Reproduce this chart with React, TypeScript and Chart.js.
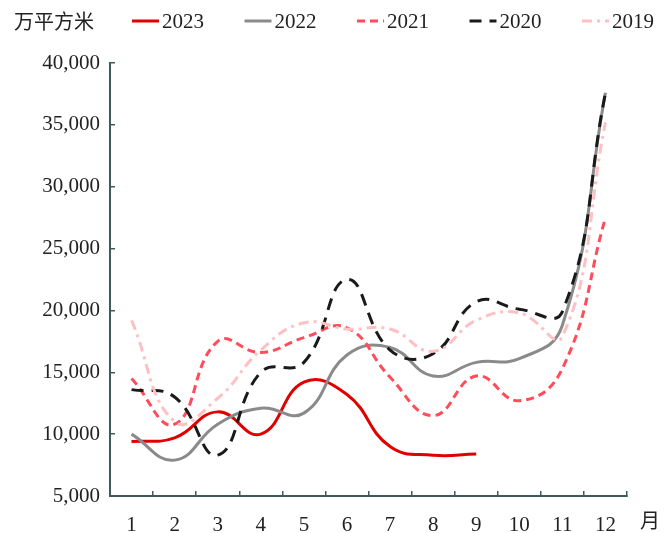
import React, { useEffect, useRef } from "react";
import { Chart, registerables } from "chart.js";

Chart.register(...registerables);

// Month categories and tick values
const months = ["1", "2", "3", "4", "5", "6", "7", "8", "9", "10", "11", "12"];
const yTicks = [5000, 10000, 15000, 20000, 25000, 30000, 35000, 40000];

// Monthly values (万平方米)
const s2023 = [9400, 9700, 11800, 10000, 14200, 13200, 9000, 8300, 8400];
const s2022 = [10000, 7900, 10800, 12100, 11700, 16400, 17000, 14700, 15800, 16100, 18800, 37600];
const s2021 = [14500, 10800, 17500, 16600, 17800, 18600, 14600, 11500, 14700, 12700, 15300, 27500];
const s2020 = [13600, 13000, 8300, 15000, 15800, 22500, 16800, 16500, 20700, 20100, 19900, 37600];
const s2019 = [19200, 11000, 12900, 16800, 19000, 18500, 18500, 16700, 19200, 19800, 17900, 35200];

const unitLabel = "万平方米";
const monthLabel = "月";

const AXIS = "#3f5a5a";
const FONT = "'Liberation Serif', 'DejaVu Serif', serif";
const CJK = "'Noto Sans CJK SC', sans-serif";

// Top legend: unit caption followed by a line sample and year for each series
const topLegend = {
  id: "topLegend",
  afterDraw(chart: any) {
    const ctx = chart.ctx;
    const y = 21;
    ctx.save();
    ctx.fillStyle = "#222";
    ctx.textBaseline = "middle";
    ctx.font = `20px ${CJK}`;
    ctx.fillText(unitLabel, 14, y);
    ctx.font = `21px ${FONT}`;
    const start = 132;
    const step = 112.5;
    const sample = 27;
    chart.data.datasets.forEach((ds: any, i: number) => {
      const x0 = start + i * step;
      ctx.beginPath();
      ctx.setLineDash(ds.borderDash || []);
      ctx.strokeStyle = ds.borderColor;
      ctx.lineWidth = ds.borderWidth;
      ctx.moveTo(x0, y);
      ctx.lineTo(x0 + sample, y);
      ctx.stroke();
      ctx.setLineDash([]);
      ctx.fillStyle = "#222";
      ctx.fillText(ds.label, x0 + sample + 3, y + 1);
    });
    // month caption at the end of the x axis
    const area = chart.chartArea;
    ctx.font = `20px ${CJK}`;
    ctx.fillText(monthLabel, area.right + 13, area.bottom + 24);
    ctx.restore();
  },
};

export default function App() {
  const ref = useRef<HTMLCanvasElement | null>(null);

  useEffect(() => {
    if (!ref.current) return;
    const common = {
      fill: false,
      pointRadius: 0,
      pointHoverRadius: 0,
      tension: 0.45,
      borderWidth: 3,
      spanGaps: false,
    };
    const chart = new Chart(ref.current, {
      type: "line",
      data: {
        labels: months,
        datasets: [
          { ...common, label: "2023", data: s2023, borderColor: "#e00000", order: 5 },
          { ...common, label: "2022", data: s2022, borderColor: "#8a8a8a", order: 4 },
          { ...common, label: "2021", data: s2021, borderColor: "#ff4b5a", borderDash: [8, 5], order: 3 },
          { ...common, label: "2020", data: s2020, borderColor: "#1a1a1a", borderDash: [12, 8], order: 2 },
          { ...common, label: "2019", data: s2019, borderColor: "#ffc0c4", borderDash: [10, 5, 3, 5], order: 1 },
        ],
      },
      options: {
        responsive: false,
        animation: false,
        layout: { padding: { top: 63, right: 37, left: 0, bottom: 0 } },
        plugins: {
          legend: { display: false },
          tooltip: { enabled: false },
          title: { display: false },
        },
        scales: {
          x: {
            type: "category",
            offset: true,
            grid: {
              display: true,
              offset: true,
              drawOnChartArea: false,
              drawTicks: true,
              tickLength: -5,
              color: AXIS,
              lineWidth: 1.5,
            },
            border: { display: true, color: AXIS, width: 2 },
            ticks: {
              color: "#222",
              font: { family: FONT, size: 21 },
              padding: 22,
              maxRotation: 0,
              autoSkip: false,
            },
            afterFit(scale: any) {
              scale.height = 37;
            },
          },
          y: {
            min: 5000,
            max: 40000,
            afterBuildTicks(scale: any) {
              scale.ticks = yTicks.map((v) => ({ value: v }));
            },
            grid: {
              display: true,
              drawOnChartArea: false,
              drawTicks: true,
              tickLength: -5,
              color: AXIS,
              lineWidth: 1.5,
            },
            border: { display: true, color: AXIS, width: 2 },
            ticks: {
              color: "#222",
              font: { family: FONT, size: 21 },
              padding: 15,
              callback: (v: any) => Number(v).toLocaleString("en-US"),
            },
            afterFit(scale: any) {
              scale.width = 110;
            },
          },
        },
      },
      plugins: [topLegend],
    });
    return () => chart.destroy();
  }, []);

  return (
    <div style={{ position: "fixed", left: 0, top: 0, width: 664, height: 533, background: "#fff" }}>
      <canvas ref={ref} width={664} height={533} style={{ width: 664, height: 533, display: "block" }} />
    </div>
  );
}
